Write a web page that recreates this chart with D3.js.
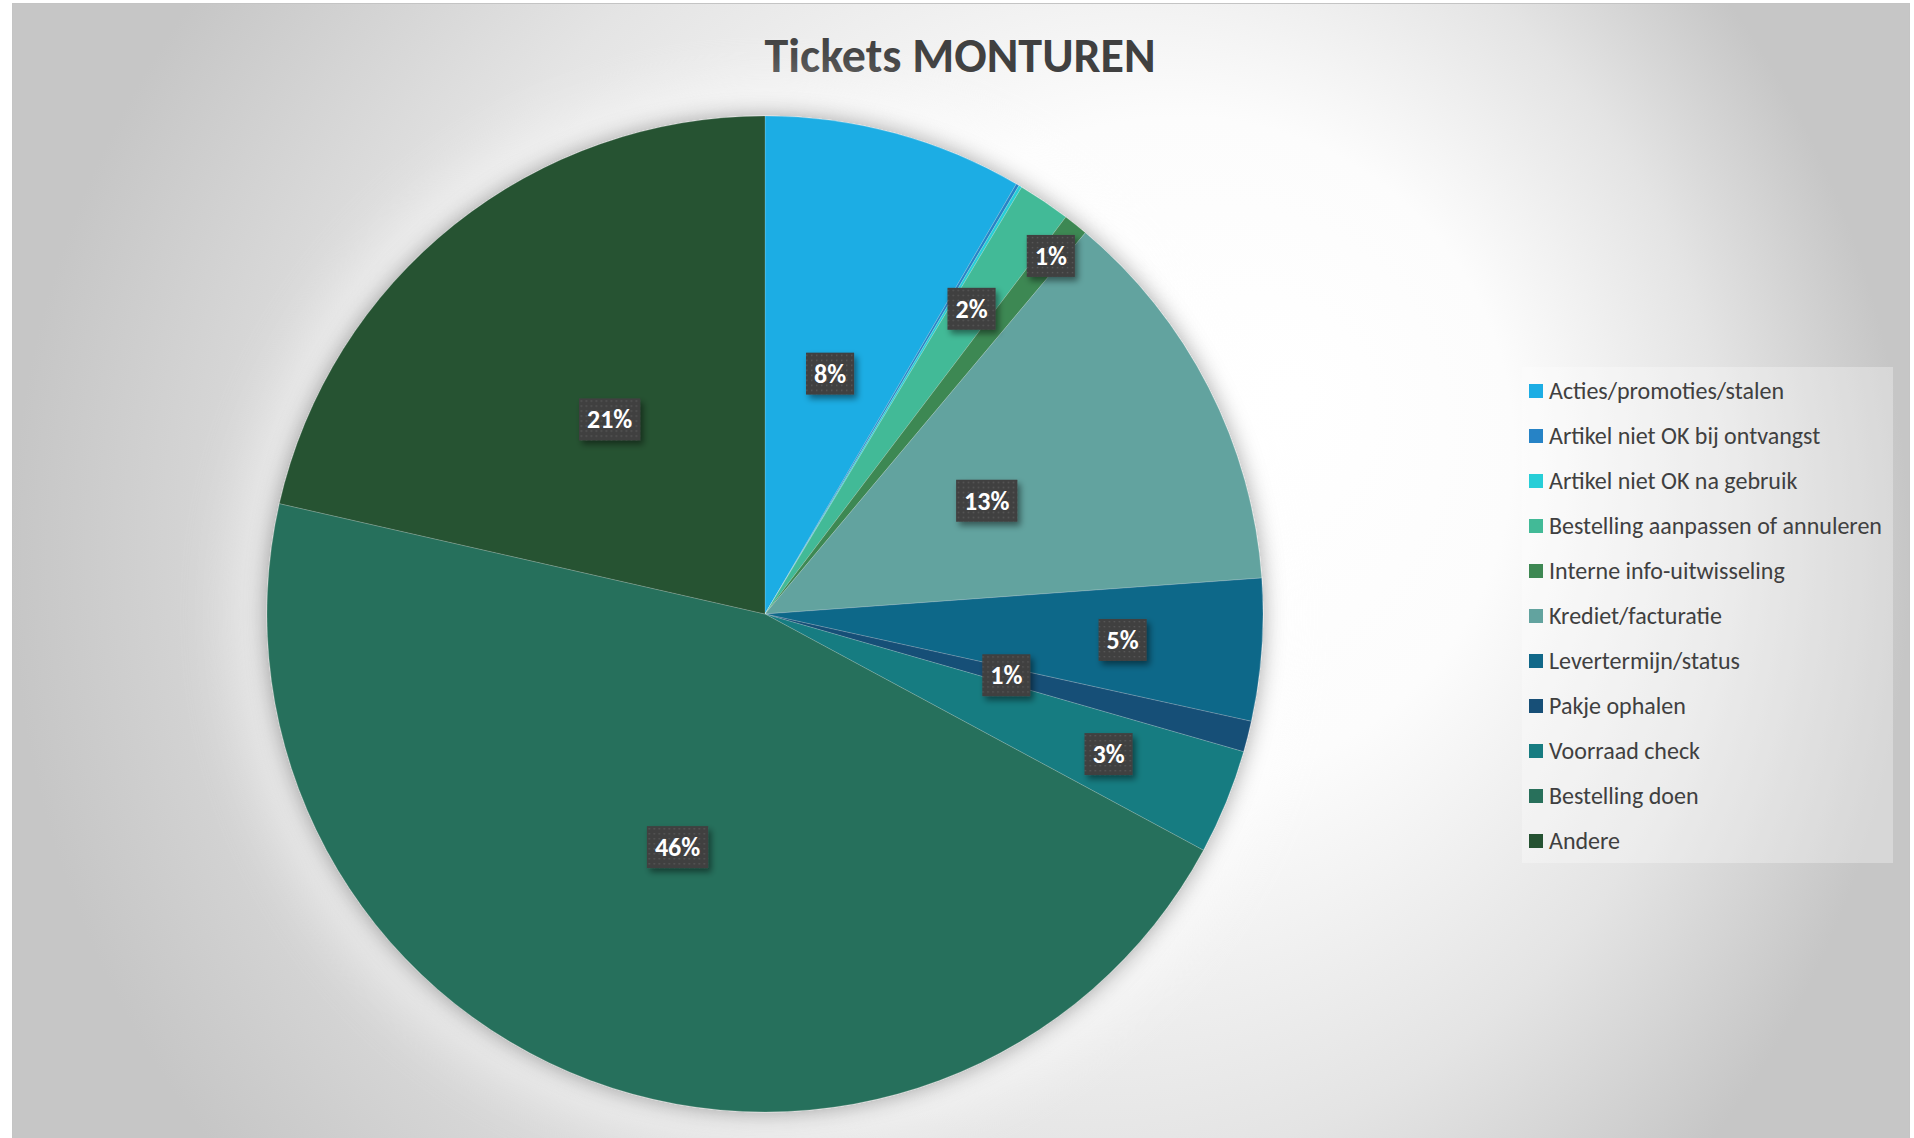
<!DOCTYPE html>
<html>
<head>
<meta charset="UTF-8">
<title>Tickets MONTUREN</title>
<style>
  html, body { margin: 0; padding: 0; background: #ffffff; }
  svg { display: block; }
</style>
</head>
<body>
<script src="https://cdn.jsdelivr.net/npm/d3@7"></script>
<script>
// categorieën en aantallen tickets
var categories = ["Acties/promoties/stalen", "Artikel niet OK bij ontvangst", "Artikel niet OK na gebruik",
  "Bestelling aanpassen of annuleren", "Interne info-uitwisseling", "Krediet/facturatie",
  "Levertermijn/status", "Pakje ophalen", "Voorraad check", "Bestelling doen", "Andere"];
var counts = [84, 1, 1, 17, 8, 127, 46, 10, 34, 456, 214];
var colors = ["#1cade4", "#2683c6", "#27ced7", "#42ba97", "#3e8853", "#62a39f",
  "#116889", "#174f77", "#177c81", "#28705b", "#255232"];
// labels die handmatig naar buiten geschoven zijn (fractie van straal)
var labelRadius = [0.5, 0, 0, 0.74, 0.92, 0.5, 0.72, 0.5, 0.745, 0.5, 0.5];

var width = 1914, height = 1138;
var cx = 765, cy = 614, r = 498;
var font = "Calibri, Carlito, Lato, sans-serif";

var svg = d3.select("body").append("svg")
  .attr("width", width)
  .attr("height", height);

var defs = svg.append("defs");

// achtergrond verloop
var grad = defs.append("radialGradient")
  .attr("id", "bg")
  .attr("gradientUnits", "userSpaceOnUse")
  .attr("cx", 960).attr("cy", 560).attr("r", 950)
  .attr("fx", 1300).attr("fy", 390);
[[0, "#ffffff"], [0.35, "#fcfcfc"], [0.7, "#e4e4e4"], [1, "#c6c6c6"]].forEach(function(s){
  grad.append("stop").attr("offset", s[0]).attr("stop-color", s[1]);
});

// schaduw rond de taart
var pieShadow = defs.append("filter").attr("id", "pieShadow")
  .attr("x", "-20%").attr("y", "-20%").attr("width", "140%").attr("height", "140%");
pieShadow.append("feDropShadow")
  .attr("dx", 0).attr("dy", 0).attr("stdDeviation", 11)
  .attr("flood-color", "#000").attr("flood-opacity", 0.35);

var glow = defs.append("filter").attr("id", "glow")
  .attr("x", "-30%").attr("y", "-30%").attr("width", "160%").attr("height", "160%");
glow.append("feGaussianBlur").attr("stdDeviation", 28);

// schaduw van de labels
var lblShadow = defs.append("filter").attr("id", "lblShadow")
  .attr("x", "-30%").attr("y", "-30%").attr("width", "160%").attr("height", "160%");
lblShadow.append("feDropShadow")
  .attr("dx", 3).attr("dy", 4).attr("stdDeviation", 3)
  .attr("flood-color", "#000").attr("flood-opacity", 0.45);

// stippelpatroon in de labels
var pat = defs.append("pattern").attr("id", "dots")
  .attr("patternUnits", "userSpaceOnUse")
  .attr("width", 5).attr("height", 5);
pat.append("rect").attr("width", 5).attr("height", 5).attr("fill", "#404040");
pat.append("rect").attr("x", 1).attr("y", 1).attr("width", 1.3).attr("height", 1.3).attr("fill", "#5c5c5c");

// kader en achtergrond
svg.append("rect")
  .attr("x", 12.5).attr("y", 3.5)
  .attr("width", 1897).attr("height", 1140)
  .attr("fill", "url(#bg)")
  .attr("stroke", "#c4c4c4")
  .attr("stroke-width", 1);

// titel
svg.append("text")
  .attr("x", 960).attr("y", 72)
  .attr("text-anchor", "middle")
  .attr("font-family", font)
  .attr("font-weight", "bold")
  .attr("font-size", 48)
  .attr("fill", "#404040")
  .text("Tickets MONTUREN");

// taart
var total = d3.sum(counts);
var pie = d3.pie().sort(null).value(function(d){ return d; });
var arcs = pie(counts);
var arc = d3.arc().innerRadius(0).outerRadius(r);

var g = svg.append("g").attr("transform", "translate(" + cx + "," + cy + ")");

g.append("circle")
  .attr("r", r + 35)
  .attr("fill", "#ffffff")
  .attr("opacity", 0.45)
  .attr("filter", "url(#glow)");

var slices = g.append("g").attr("filter", "url(#pieShadow)");
slices.selectAll("path")
  .data(arcs)
  .enter().append("path")
  .attr("d", arc)
  .attr("fill", function(d, i){ return colors[i]; })
  .attr("stroke", "rgba(255,255,255,0.25)")
  .attr("stroke-width", 0.7);

// percentage labels
var labels = g.selectAll("g.lbl")
  .data(arcs.filter(function(d, i){ return Math.round(d.value / total * 100) > 0; }))
  .enter().append("g")
  .attr("class", "lbl")
  .attr("transform", function(d){
    var rr = r * labelRadius[d.index];
    var a = (d.startAngle + d.endAngle) / 2;
    return "translate(" + (Math.sin(a) * rr) + "," + (-Math.cos(a) * rr) + ")";
  });

labels.each(function(d){
  var sel = d3.select(this);
  var txt = sel.append("text")
    .attr("text-anchor", "middle")
    .attr("y", 9)
    .attr("font-family", font)
    .attr("font-weight", "bold")
    .attr("font-size", 26)
    .attr("fill", "#ffffff")
    .text(Math.round(d.value / total * 100) + "%");
  var w = txt.node().getComputedTextLength() + 16;
  sel.insert("rect", "text")
    .attr("x", -w / 2).attr("y", -21)
    .attr("width", w).attr("height", 42)
    .attr("fill", "url(#dots)")
    .attr("filter", "url(#lblShadow)");
});

// legenda
var legend = svg.append("g");
legend.append("rect")
  .attr("x", 1522).attr("y", 367)
  .attr("width", 371).attr("height", 496)
  .attr("fill", "#ffffff")
  .attr("opacity", 0.3);

var item = legend.selectAll("g.item")
  .data(categories)
  .enter().append("g")
  .attr("class", "item")
  .attr("transform", function(d, i){ return "translate(1529," + (391 + i * 45) + ")"; });

item.append("rect")
  .attr("x", 0).attr("y", -7)
  .attr("width", 14).attr("height", 14)
  .attr("fill", function(d, i){ return colors[i]; });

item.append("text")
  .attr("x", 20).attr("y", 8)
  .attr("font-family", font)
  .attr("font-size", 24)
  .attr("fill", "#404040")
  .text(function(d){ return d; });
</script>
</body>
</html>
